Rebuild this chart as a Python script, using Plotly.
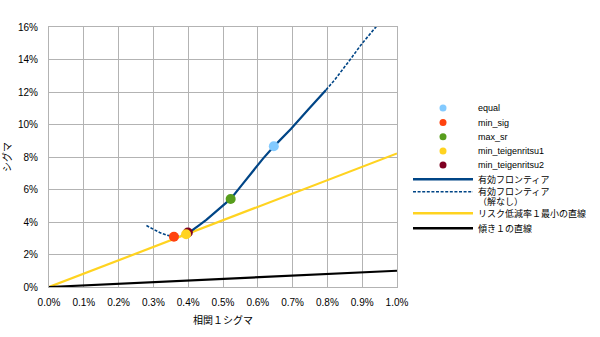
import plotly.graph_objects as go

# ---------------- data (fractions; axis shows percent) ----------------
frontier_x = [0.00400, 0.00414, 0.00430, 0.00452, 0.00475, 0.00500, 0.00522, 0.00555,
              0.00586, 0.00615, 0.00647, 0.00695, 0.00745, 0.00796]
frontier_y = [0.0332, 0.0352, 0.0378, 0.0413, 0.0455, 0.0498, 0.0542, 0.0630,
              0.0715, 0.0790, 0.0867, 0.0972, 0.1092, 0.1213]

nosol_low_x = [0.00280, 0.00300, 0.00318, 0.00340, 0.00356, 0.00375, 0.00400]
nosol_low_y = [0.0378, 0.0355, 0.0335, 0.0318, 0.0311, 0.0312, 0.0332]
nosol_high_x = [0.00796, 0.00821, 0.00864, 0.00900, 0.00941]
nosol_high_y = [0.1213, 0.1275, 0.1395, 0.1500, 0.1604]

line_x = [0.0, 0.010]
risk_line_y = [0.0, 0.0822]
slope1_line_y = [0.0, 0.010]

point_names = ["equal", "min_sig", "max_sr", "min_teigenritsu1", "min_teigenritsu2"]
point_x = [0.00646, 0.00359, 0.00522, 0.00394, 0.00399]
point_y = [0.0866, 0.0309, 0.0542, 0.0325, 0.0335]
point_colors = ["#83caff", "#ff420e", "#579d1c", "#ffd320", "#7e0021"]

x_ticks = [i / 1000 for i in range(0, 11)]
y_ticks = [i / 100 for i in range(0, 17, 2)]

line_names = ["有効フロンティア", "有効フロンティア<br>（解なし）", "リスク低減率１最小の直線", "傾き１の直線"]

FONT = "Liberation Sans, Arial, Noto Sans CJK JP, sans-serif"
BLUE = "#004586"
DASH = "3px,1.6px"

# ---------------- layout geometry (pixels) ----------------
W, H = 600, 337
ML, MT, MB = 49, 27, 50
PLOT_W = 348
paper_w = W - ML
legend_left = 401
leg_sym_x0, leg_sym_x1, leg_mark_x, leg_text_x = 413, 473, 443, 476
leg_rows = [108, 122.5, 136.7, 151, 165, 179.3, 191.7, 213.3, 228.3]

fig = go.Figure()

# frontier lines
fig.add_trace(go.Scatter(x=nosol_low_x, y=nosol_low_y, mode="lines",
                         line=dict(color=BLUE, width=1.6, dash=DASH),
                         showlegend=False, hoverinfo="skip"))
fig.add_trace(go.Scatter(x=nosol_high_x, y=nosol_high_y, mode="lines",
                         line=dict(color=BLUE, width=1.6, dash=DASH),
                         showlegend=False, hoverinfo="skip"))
fig.add_trace(go.Scatter(x=line_x, y=risk_line_y, mode="lines",
                         line=dict(color="#ffd320", width=2.2),
                         showlegend=False, hoverinfo="skip"))
fig.add_trace(go.Scatter(x=line_x, y=slope1_line_y, mode="lines",
                         line=dict(color="#000000", width=2.2),
                         showlegend=False, hoverinfo="skip"))
fig.add_trace(go.Scatter(x=frontier_x, y=frontier_y, mode="lines",
                         line=dict(color=BLUE, width=2.2),
                         showlegend=False, hoverinfo="skip"))

# points (draw min_teigenritsu2 before min_teigenritsu1)
for i in [0, 1, 2, 4, 3]:
    fig.add_trace(go.Scatter(x=[point_x[i]], y=[point_y[i]], mode="markers",
                             marker=dict(color=point_colors[i], size=10, line=dict(width=0)),
                             name=point_names[i], showlegend=False))

# ---------------- custom legend on auxiliary axes ----------------
for i, nm in enumerate(point_names):
    fig.add_trace(go.Scatter(x=[leg_mark_x], y=[leg_rows[i]], mode="markers",
                             marker=dict(color=point_colors[i], size=7),
                             xaxis="x2", yaxis="y2", showlegend=False, hoverinfo="skip"))
leg_line_styles = [dict(color=BLUE, width=2.6),
                   dict(color=BLUE, width=1.6, dash=DASH),
                   dict(color="#ffd320", width=2.6),
                   dict(color="#000000", width=2.6)]
for j, st in enumerate(leg_line_styles):
    r = leg_rows[5 + j]
    fig.add_trace(go.Scatter(x=[leg_sym_x0, leg_sym_x1], y=[r, r], mode="lines", line=st,
                             xaxis="x2", yaxis="y2", showlegend=False, hoverinfo="skip"))
all_labels = point_names + line_names
for i, lab in enumerate(all_labels):
    parts = lab.split("<br>")
    for k, part in enumerate(parts):
        fig.add_annotation(x=leg_text_x, y=leg_rows[i] + 9.5 * k, text=part,
                           xref="x2", yref="y2", xanchor="left", yanchor="middle",
                           showarrow=False,
                           font=dict(size=9, color="#000", family=FONT))

grid = "#b3b3b3"
fig.update_layout(
    width=W, height=H,
    margin=dict(l=ML, r=0, t=MT, b=MB, pad=0),
    paper_bgcolor="white", plot_bgcolor="white",
    font=dict(family=FONT, size=10, color="#000"),
    showlegend=False,
    xaxis=dict(domain=[0, PLOT_W / paper_w], range=[0, 0.010], tickvals=x_ticks,
               tickformat=".1%", showgrid=True, gridcolor=grid, gridwidth=1,
               zeroline=False, showline=True, linecolor=grid, linewidth=1, mirror=True,
               ticks="outside", ticklen=6, tickcolor="rgba(0,0,0,0)",
               tickfont=dict(size=10), automargin=False,
               title=dict(text="相関１シグマ", font=dict(size=10), standoff=9)),
    yaxis=dict(range=[0, 0.16], tickvals=y_ticks, tickformat=".0%",
               showgrid=True, gridcolor=grid, gridwidth=1,
               zeroline=False, showline=True, linecolor=grid, linewidth=1, mirror=True,
               ticks="outside", ticklen=8, tickcolor="rgba(0,0,0,0)",
               tickfont=dict(size=10), automargin=False,
               title=dict(text="シグマ", font=dict(size=10), standoff=4)),
    xaxis2=dict(domain=[(legend_left - ML) / paper_w, 1], range=[legend_left, W],
                anchor="y2", visible=False, fixedrange=True),
    yaxis2=dict(domain=[0, 1], range=[H - MB, MT], anchor="x2", visible=False,
                fixedrange=True),
)

fig.write_html("out.html")
